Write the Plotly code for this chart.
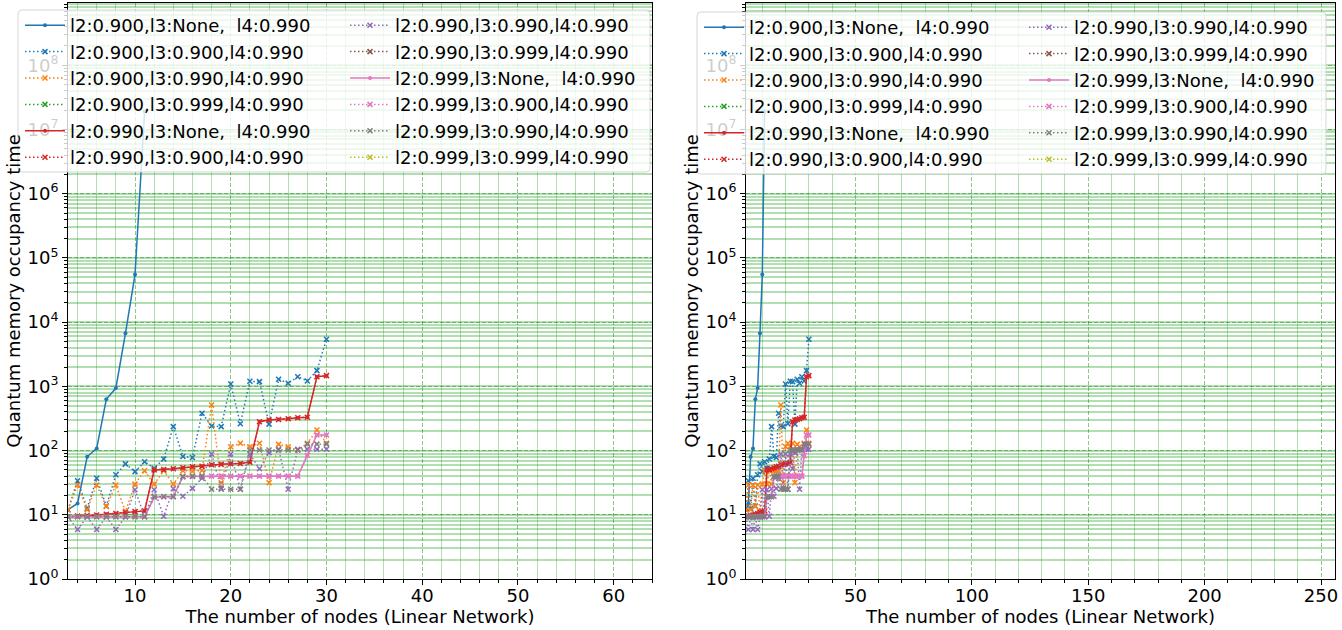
import plotly.graph_objects as go

# Node counts of the linear network
nodes = list(range(3, 31))
nodes_short = list(range(3, 12))

# Quantum memory occupancy time per configuration (l2, l3, l4)
occ_900_none = [12, 15, 80, 108, 630, 940, 6700, 55000, 1.9e7]
occ_900_900 = [12, 34, 12.6, 37, 13.7, 42, 62, 47, 67, 53, 74, 236, 81, 78,
               382, 242, 236, 1090, 262, 1200, 1185, 258, 1290, 1117, 1416,
               1215, 1757, 5410]
occ_900_990 = [12, 29, 12, 29, 13.5, 29, 11.3, 30, 48.6, 30, 48.6, 30, 48.6,
               48, 49, 513, 31.6, 115, 130, 115, 130, 31.6, 125, 115, 102,
               130, 209, 130]
occ_900_999 = [None]
occ_990_none = [9.3, 9.6, 9.7, 9.9, 10.2, 10.5, 10.8, 11.2, 11.5, 50, 50.5,
                52, 54, 56, 57, 60, 61, 62.5, 63, 66, 282, 300, 305, 314, 324,
                331, 1416, 1468]
occ_990_900 = [9.3, 9.6, 9.7, 9.9, 10.2, 10.5, 10.8, 11.2, 11.5, 50, 50.5,
               52, 54, 56, 57, 60, 61, 62.5, 63, 66, 282, 300, 305, 314, 324,
               331, 1416, 1468]
occ_990_990 = [9.3, 5.9, 9.3, 5.9, 9.3, 5.9, 9.3, 24.5, 9.3, 24.6, 9.5, 25.5,
               19.5, 25.8, 37, 88.5, 26, 88.5, 25, 88.5, 52, 93, 105, 25, 105,
               105, 105, 105]
occ_990_999 = [None]
occ_999_none = [9.3, 9.3, 9.3, 9.3, 9.3, 9.3, 9.3, 9.3, 9.3, 18.7, 19.2, 19.2,
                39.3, 39.5, 40, 40, 40, 40, 40, 40, 40, 40, 40, 40, 40, 84,
                175, 175]
occ_999_900 = [9.3, 9.3, 9.3, 9.3, 9.3, 9.3, 9.3, 9.3, 9.3, 18.7, 19.2, 19.2,
               39.3, 39.5, 40, 40, 40, 40, 40, 40, 40, 40, 40, 40, 40, 84,
               175, 175]
occ_999_990 = [9.3, 9.3, 9.3, 9.3, 9.3, 9.3, 9.3, 9.3, 9.3, 19.1, 19.1, 19.1,
               39.3, 40, 40, 25, 25, 25, 25, 102, 102, 102, 102, 102, 102,
               126, 126, 126]
occ_999_999 = [None]
no_nodes = [None]

NB = "\u00a0"
series = [
    ("l2:0.900,l3:None," + NB * 2 + "l4:0.990", nodes_short, occ_900_none, "#1f77b4", "solid"),
    ("l2:0.900,l3:0.900,l4:0.990", nodes, occ_900_900, "#1f77b4", "dot"),
    ("l2:0.900,l3:0.990,l4:0.990", nodes, occ_900_990, "#ff7f0e", "dot"),
    ("l2:0.900,l3:0.999,l4:0.990", no_nodes, occ_900_999, "#2ca02c", "dot"),
    ("l2:0.990,l3:None," + NB * 2 + "l4:0.990", nodes, occ_990_none, "#d62728", "solid"),
    ("l2:0.990,l3:0.900,l4:0.990", nodes, occ_990_900, "#d62728", "dot"),
    ("l2:0.990,l3:0.990,l4:0.990", nodes, occ_990_990, "#9467bd", "dot"),
    ("l2:0.990,l3:0.999,l4:0.990", no_nodes, occ_990_999, "#8c564b", "dot"),
    ("l2:0.999,l3:None," + NB * 2 + "l4:0.990", nodes, occ_999_none, "#e377c2", "solid"),
    ("l2:0.999,l3:0.900,l4:0.990", nodes, occ_999_900, "#e377c2", "dot"),
    ("l2:0.999,l3:0.990,l4:0.990", nodes, occ_999_990, "#7f7f7f", "dot"),
    ("l2:0.999,l3:0.999,l4:0.990", no_nodes, occ_999_999, "#bcbd22", "dot"),
]

FONT = "DejaVu Sans"
W, H = 1342, 630

fig = go.Figure()
for panel, (xa, ya, lg1, lg2) in enumerate([("x", "y", "legend", "legend2"),
                                            ("x2", "y2", "legend3", "legend4")]):
    for i, (name, xs, ys, color, dash) in enumerate(series):
        if dash == "solid":
            marker = dict(symbol="circle", size=4, color=color)
            line = dict(color=color, width=1.5)
        else:
            marker = dict(symbol="x-thin", size=5, color=color,
                          line=dict(width=1.5, color=color))
            line = dict(color=color, width=1.5, dash="1.5px,2.5px")
        fig.add_trace(go.Scatter(
            x=xs, y=ys, name=name, mode="lines+markers",
            line=line, marker=marker,
            xaxis=xa, yaxis=ya, legend=lg1 if i < 6 else lg2,
            legendgroup=f"g{panel}_{i}", showlegend=True,
        ))

x_left = [68 / W, 652 / W]
x_right = [746 / W, 1335 / W]
y_dom = [(H - 579) / H, (H - 3) / H]

major_grid = "rgba(0,128,0,0.45)"
minor_grid = "rgba(0,150,0,0.3)"
major_dash = "4px,2px"

def xaxis(domain, rng, dtick, minor_dtick, anchor):
    return dict(
        domain=domain, range=rng, anchor=anchor,
        dtick=dtick, tick0=0, showline=True, linecolor="black", linewidth=1, mirror=True,
        ticks="outside", ticklen=5, tickcolor="black", ticklabelstandoff=-5,
        showgrid=True, gridcolor=major_grid, griddash=major_dash, gridwidth=1,
        minor=dict(dtick=minor_dtick, tick0=0, showgrid=True, gridcolor=minor_grid,
                   griddash="solid", gridwidth=1, ticks="outside", ticklen=3,
                   tickcolor="black"),
        tickfont=dict(family=FONT, size=18, color="black"),
        title=dict(text="The number of nodes (Linear Network)",
                   font=dict(family=FONT, size=18, color="black"), standoff=0),
        zeroline=False, automargin=False,
    )

decades = list(range(0, 9))
def yaxis(anchor):
    return dict(
        domain=y_dom, type="log", range=[0, 8.97], anchor=anchor,
        tickvals=[10 ** d for d in decades],
        ticktext=[f"10<sup>{d}</sup>" for d in decades],
        showline=True, linecolor="black", linewidth=1, mirror=True,
        ticks="outside", ticklen=5, tickcolor="black",
        showgrid=True, gridcolor=major_grid, griddash=major_dash, gridwidth=1,
        minor=dict(dtick="D1", showgrid=True, gridcolor=minor_grid, griddash="solid",
                   gridwidth=1.6, ticks="outside", ticklen=3, tickcolor="black"),
        tickfont=dict(family=FONT, size=18, color="black"),
        title=dict(text="Quantum memory occupancy time",
                   font=dict(family=FONT, size=18, color="black"), standoff=2),
        zeroline=False, automargin=False,
    )

def legend(x_px, y_px):
    return dict(
        x=x_px / W, y=1 - y_px / H, xanchor="left", yanchor="top",
        bgcolor="rgba(0,0,0,0)", borderwidth=0, itemwidth=40,
        font=dict(family=FONT, size=18, color="black"),
        tracegroupgap=0, itemclick=False,
    )

def rounded_box(x0, y0, x1, y1, r=4):
    # rounded rectangle in paper coordinates, corners given in pixels
    fx = lambda v: v / W
    fy = lambda v: 1 - v / H
    p = (f"M {fx(x0 + r)},{fy(y0)} L {fx(x1 - r)},{fy(y0)} "
         f"Q {fx(x1)},{fy(y0)} {fx(x1)},{fy(y0 + r)} L {fx(x1)},{fy(y1 - r)} "
         f"Q {fx(x1)},{fy(y1)} {fx(x1 - r)},{fy(y1)} L {fx(x0 + r)},{fy(y1)} "
         f"Q {fx(x0)},{fy(y1)} {fx(x0)},{fy(y1 - r)} L {fx(x0)},{fy(y0 + r)} "
         f"Q {fx(x0)},{fy(y0)} {fx(x0 + r)},{fy(y0)} Z")
    return dict(type="path", xref="paper", yref="paper", path=p, layer="above",
                fillcolor="rgba(255,255,255,0.8)", line=dict(color="rgba(204,204,204,0.8)", width=1))

fig.update_layout(
    width=W, height=H, margin=dict(l=0, r=0, t=0, b=0),
    paper_bgcolor="white", plot_bgcolor="white",
    font=dict(family=FONT, size=18, color="black"),
    xaxis=xaxis(x_left, [3, 64], 10, 2, "y"),
    xaxis2=xaxis(x_right, [3, 256], 50, 10, "y2"),
    yaxis=yaxis("x"), yaxis2=yaxis("x2"),
    legend=legend(20, 7), legend2=legend(345, 7),
    legend3=legend(699, 9), legend4=legend(1024, 9),
    shapes=[rounded_box(18, 10, 650, 172), rounded_box(697, 12, 1326, 174)],
)

fig.write_html("out.html")
